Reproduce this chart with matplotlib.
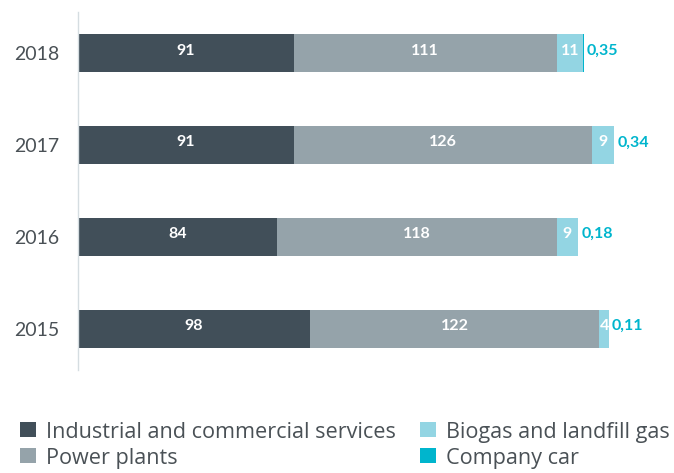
import matplotlib
matplotlib.use("Agg")
import matplotlib.pyplot as plt
from matplotlib.patches import Rectangle

plt.rcParams['font.family'] = ['Lato', 'DejaVu Sans']

years = ["2015", "2016", "2017", "2018"]
industrial = [98, 84, 91, 91]
power_plants = [122, 118, 126, 111]
biogas = [4, 9, 9, 11]
company_car = [0.11, 0.18, 0.34, 0.35]

series_names = ["Industrial and commercial services", "Power plants",
                "Biogas and landfill gas", "Company car"]
colors = ["#414f59", "#95a3aa", "#93d5e3", "#00b5cd"]
text_color = "#4a5156"

W, H = 674, 473


def fmt(v):
    return f"{v:g}".replace(".", ",")


fig = plt.figure(figsize=(W / 100, H / 100), dpi=100)
ax = fig.add_axes([78 / W, 103 / H, 596 / W, 358 / H])

ypos = list(range(len(years)))
left = [0.0] * len(years)
series = [industrial, power_plants, biogas, company_car]
for idx, (vals, col) in enumerate(zip(series, colors)):
    ax.barh(ypos, vals, left=left, height=0.415, color=col, edgecolor="none")
    for y, l, v in zip(ypos, left, vals):
        if idx < 3:
            ax.text(l + v / 2, y + 0.03, fmt(v), ha="center", va="center",
                    color="white", fontsize=11.5, fontweight="bold")
        else:
            ax.text(l + v + 1.2, y + 0.03, fmt(v), ha="left", va="center",
                    color=col, fontsize=11.5, fontweight="bold")
    left = [a + b for a, b in zip(left, vals)]

ax.set_xlim(0, 251.5)
ax.set_ylim(-0.45, 3.45)
ax.set_yticks(ypos)
ax.set_yticklabels(years, fontsize=14, color=text_color)
ax.tick_params(axis="y", length=0, pad=13.5)
ax.set_xticks([])
for side in ["top", "right", "bottom"]:
    ax.spines[side].set_visible(False)
ax.spines["left"].set_color("#d5dde1")
ax.spines["left"].set_linewidth(1)

# legend: two columns, two rows, laid out in pixel positions
legend_cols_x = [20, 420]
legend_rows_top = [422, 448]
for i, (name, col) in enumerate(zip(series_names, colors)):
    cx = legend_cols_x[i // 2]
    ry = legend_rows_top[i % 2]
    fig.add_artist(Rectangle((cx / W, 1 - (ry + 15) / H), 16 / W, 15 / H,
                             transform=fig.transFigure, facecolor=col,
                             edgecolor="none"))
    fig.text((cx + 26) / W, 1 - (ry + 16) / H, name, fontsize=15.6,
             color=text_color, ha="left", va="baseline",
             family=["Open Sans", "DejaVu Sans"])

fig.savefig("out.png", dpi=100)
